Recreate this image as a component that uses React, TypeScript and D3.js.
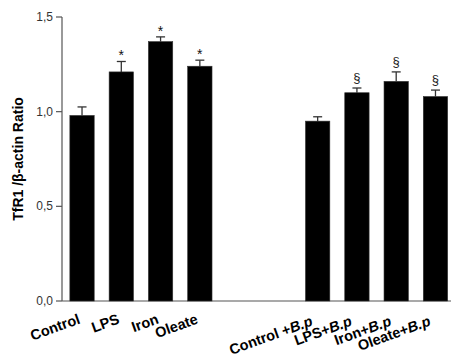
import React from 'react'
import * as d3 from 'd3'

// values
const groupA = ['Control', 'LPS', 'Iron', 'Oleate']
const groupB = ['Control ', 'LPS', 'Iron', 'Oleate']
const meansA = [0.98, 1.21, 1.37, 1.24]
const errsA = [0.045, 0.055, 0.025, 0.032]
const meansB = [0.95, 1.1, 1.16, 1.08]
const errsB = [0.023, 0.025, 0.05, 0.034]
const marksA = ['', '*', '*', '*']
const marksB = ['', '§', '§', '§']
const yTicks = [0, 0.5, 1.0, 1.5]

const W = 451
const H = 361

export default function App() {
  const y = d3.scaleLinear().domain([0, 1.5]).range([301, 17])
  // 10 slots, two empty between the groups
  const x = d3.scaleBand<number>()
    .domain(d3.range(10))
    .range([62, 455.5])
    .paddingInner(0.38)
    .paddingOuter(0.2)

  const bars = [
    ...groupA.map((c, i) => ({ slot: i, label: c, bp: false, v: meansA[i], e: errsA[i], m: marksA[i] })),
    ...groupB.map((c, i) => ({ slot: i + 6, label: c, bp: true, v: meansB[i], e: errsB[i], m: marksB[i] })),
  ]
  const bw = x.bandwidth()
  const fmt = (d: number) => d3.format('.1f')(d).replace('.', ',')

  return (
    <svg width={W} height={H} style={{ position: 'absolute', left: 0, top: 0, fontFamily: 'Arial, "Liberation Sans", sans-serif' }}>
      <rect width={W} height={H} fill="#fff" />
      {/* y axis */}
      <line x1={62} x2={62} y1={y(1.5)} y2={y(0)} stroke="#555" strokeWidth={1.2} />
      {yTicks.map(t => (
        <g key={t}>
          <line x1={56} x2={62} y1={y(t)} y2={y(t)} stroke="#555" strokeWidth={1.2} />
          <text x={53} y={y(t) + 4} textAnchor="end" fontSize={12} fill="#333">{fmt(t)}</text>
        </g>
      ))}
      <line x1={62} x2={451} y1={y(0)} y2={y(0)} stroke="#555" strokeWidth={1.2} />

      {bars.map(b => {
        const cx = (x(b.slot) as number) + bw / 2
        const top = y(b.v + b.e)
        return (
          <g key={b.slot}>
            <line x1={cx} x2={cx} y1={y(b.v)} y2={top} stroke="#333" strokeWidth={1.3} />
            <line x1={cx - 4.5} x2={cx + 4.5} y1={top} y2={top} stroke="#333" strokeWidth={1.3} />
            <rect x={x(b.slot)} y={y(b.v)} width={bw} height={y(0) - y(b.v)} fill="#000" stroke="#333" strokeWidth={0.6} />
            {b.m === '*' && (
              <text x={cx} y={top - 1} textAnchor="middle" fontSize={14} fill="#111">*</text>
            )}
            {b.m === '§' && (
              <text x={cx} y={top - 6} textAnchor="middle" fontSize={13} fill="#222">§</text>
            )}
            <text
              transform={`translate(${cx + (b.bp ? -4 : -1)},${b.bp ? 325 : 323}) rotate(-20)`}
              textAnchor="end"
              fontSize={14.5}
              fontWeight="bold"
              fill="#000"
            >
              {b.label}
              {b.bp && <tspan>+</tspan>}
              {b.bp && <tspan fontStyle="italic">B.p</tspan>}
            </text>
          </g>
        )
      })}

      <text
        transform={`translate(23,159) rotate(-90)`}
        textAnchor="middle"
        fontSize={14}
        fontWeight="bold"
        fill="#000"
      >
        TfR1 /β-actin Ratio
      </text>
    </svg>
  )
}
